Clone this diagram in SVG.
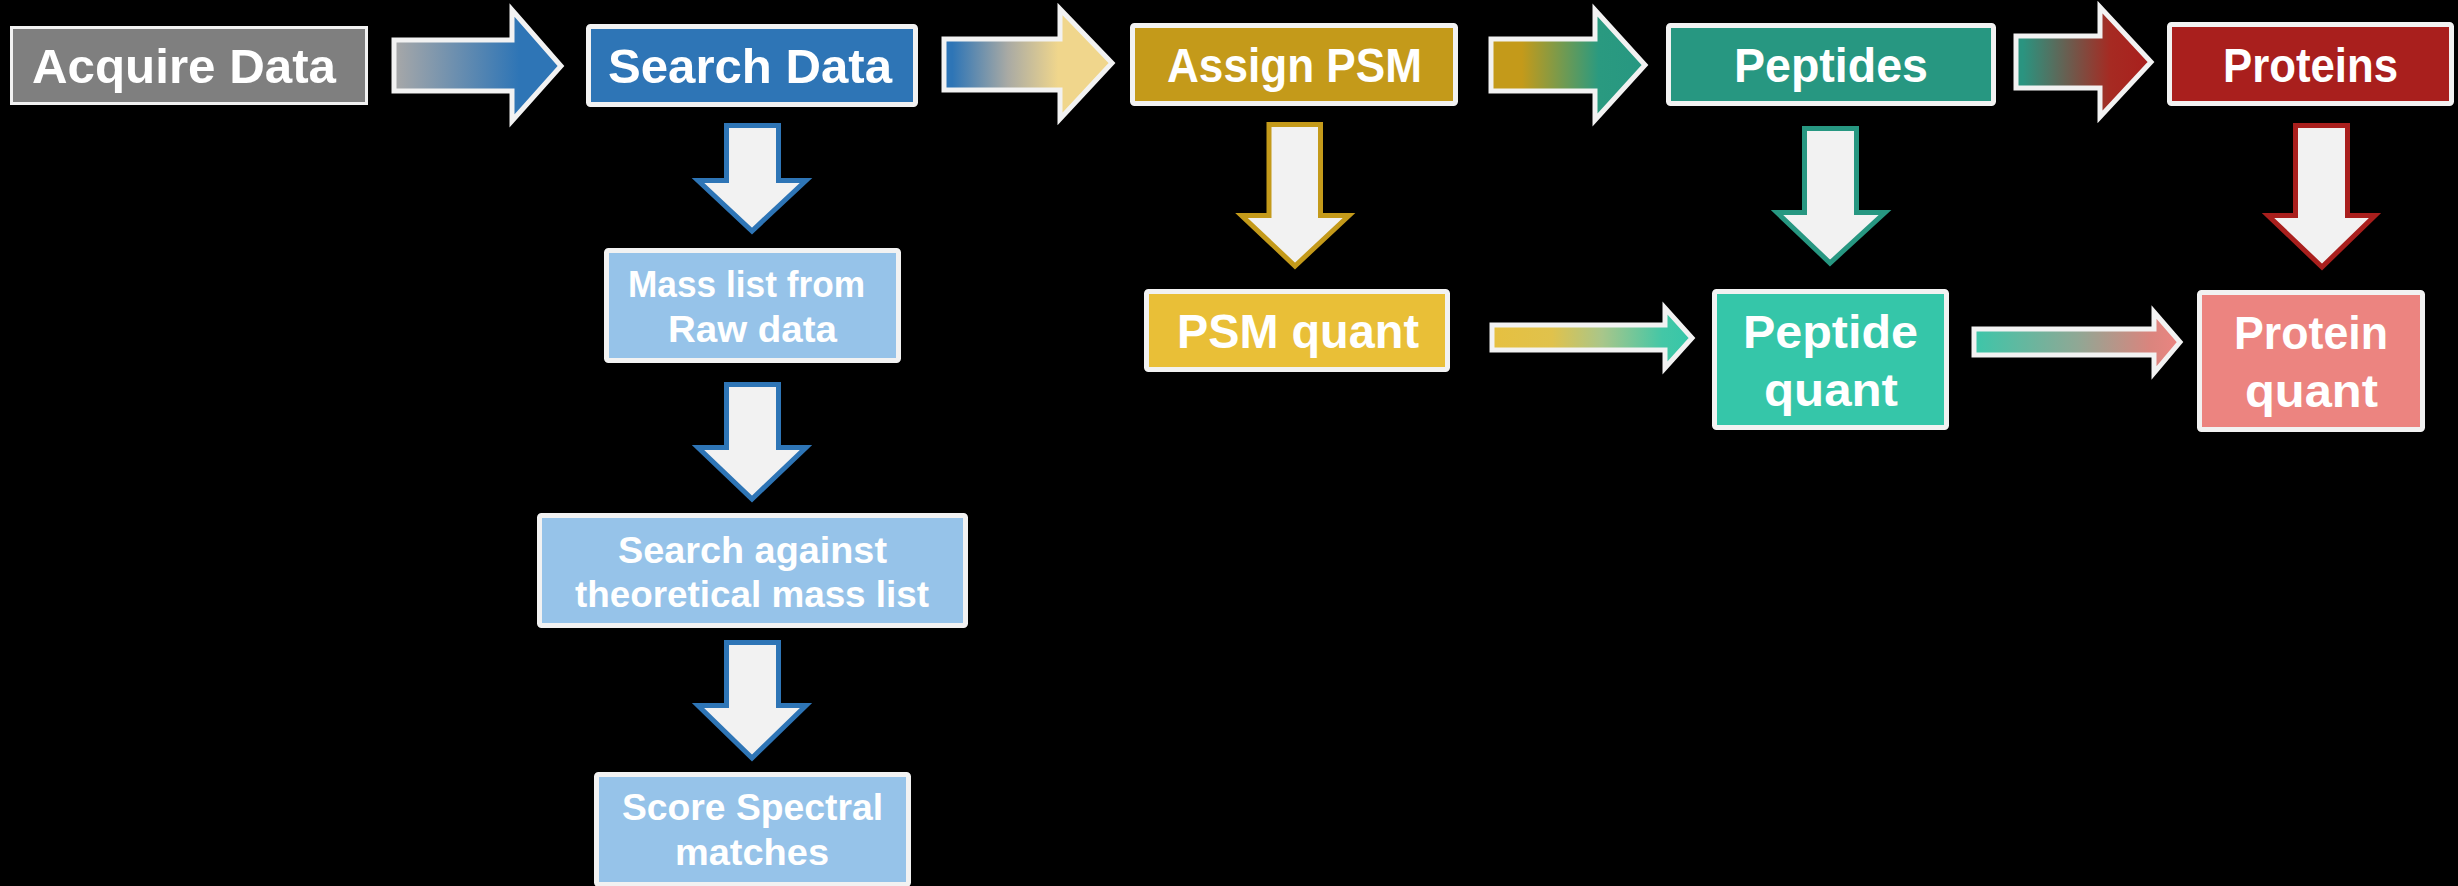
<svg xmlns="http://www.w3.org/2000/svg" width="2458" height="886" viewBox="0 0 2458 886">
  <defs>
    <style>
      .box { stroke: #f2f2f2; stroke-width: 5; }
      .lbl { font-family: "Liberation Sans", Arial, sans-serif; font-weight: bold; fill: #ffffff; text-anchor: middle; }
      .big { font-size: 48px; }
      .mid { font-size: 46px; }
      .sml { font-size: 37px; }
      .flow { stroke: #f2f2f2; stroke-width: 5; stroke-linejoin: miter; }
      .down { fill: #f2f2f2; stroke-width: 5; stroke-linejoin: miter; }
    </style>
    <linearGradient id="gAcqSearch" x1="0" y1="0" x2="1" y2="0">
      <stop offset="0" stop-color="#a8a8a8"/>
      <stop offset="0.75" stop-color="#2e75b6"/>
      <stop offset="1" stop-color="#2e75b6"/>
    </linearGradient>
    <linearGradient id="gSearchAssign" x1="0" y1="0" x2="1" y2="0">
      <stop offset="0.05" stop-color="#2e75b6"/>
      <stop offset="0.38" stop-color="#a9aaa4"/>
      <stop offset="0.68" stop-color="#f0d68c"/>
      <stop offset="1" stop-color="#f0d68c"/>
    </linearGradient>
    <linearGradient id="gAssignPep" x1="0" y1="0" x2="1" y2="0">
      <stop offset="0.2" stop-color="#c49a1a"/>
      <stop offset="0.7" stop-color="#2a9a80"/>
      <stop offset="1" stop-color="#279781"/>
    </linearGradient>
    <linearGradient id="gPepProt" x1="0" y1="0" x2="1" y2="0">
      <stop offset="0.05" stop-color="#2a9480"/>
      <stop offset="0.7" stop-color="#a62a22"/>
      <stop offset="1" stop-color="#a91f1d"/>
    </linearGradient>
    <linearGradient id="gPsmQuant" x1="0" y1="0" x2="1" y2="0">
      <stop offset="0" stop-color="#e6c040"/>
      <stop offset="0.3" stop-color="#e0c24c"/>
      <stop offset="0.55" stop-color="#a9c68a"/>
      <stop offset="0.85" stop-color="#44c7a6"/>
      <stop offset="1" stop-color="#35c6a9"/>
    </linearGradient>
    <linearGradient id="gPepQuant" x1="0" y1="0" x2="1" y2="0">
      <stop offset="0" stop-color="#3cc6a9"/>
      <stop offset="0.5" stop-color="#8fa895"/>
      <stop offset="0.85" stop-color="#d9857e"/>
      <stop offset="1" stop-color="#ec8480"/>
    </linearGradient>
  </defs>

  <rect x="0" y="0" width="2458" height="886" fill="#000000"/>

  <!-- connectors: gradient block arrows and outlined down arrows -->
  <g id="connectors">
    <path class="flow" fill="url(#gAcqSearch)" d="M394,40 H512 V10 L561,66 L512,121 V91 H394 Z"/>
    <path class="flow" fill="url(#gSearchAssign)" d="M944,39 H1060 V9 L1112,63 L1060,119 V90 H944 Z"/>
    <path class="flow" fill="url(#gAssignPep)" d="M1491,39 H1595 V10 L1645,65 L1595,120 V91 H1491 Z"/>
    <path class="flow" fill="url(#gPepProt)" d="M2016,36 H2100 V7 L2151,62 L2100,117 V88 H2016 Z"/>
    <path class="flow" fill="url(#gPsmQuant)" d="M1492,325 H1665 V308 L1692,338 L1665,368 V350 H1492 Z"/>
    <path class="flow" fill="url(#gPepQuant)" d="M1974,329 H2154 V312 L2180,342 L2154,373 V355 H1974 Z"/>

    <path class="down" stroke="#2e75b6" d="M726.5,125.5 H778.5 V180.5 H806 L752,231 L698,180.5 H726.5 Z"/>
    <path class="down" stroke="#2e75b6" d="M726.5,384.5 H778.5 V447.5 H806 L752,499 L698,447.5 H726.5 Z"/>
    <path class="down" stroke="#2e75b6" d="M726.5,642.5 H778.5 V705.5 H806 L752,758 L698,705.5 H726.5 Z"/>
    <path class="down" stroke="#c49a1a" d="M1269,124.5 H1320.5 V215.5 H1349 L1295,266 L1241.5,215.5 H1269 Z"/>
    <path class="down" stroke="#279781" d="M1804.5,128.5 H1856.5 V212.5 H1885 L1830,263 L1777,212.5 H1804.5 Z"/>
    <path class="down" stroke="#a91f1d" d="M2295.5,125.5 H2347.5 V215.5 H2375 L2322,267 L2268,215.5 H2295.5 Z"/>
  </g>

  <g id="acquire-data">
    <rect x="11.5" y="27.5" width="355" height="76" fill="#7f7f7f" stroke="#f2f2f2" stroke-width="3"/>
    <text class="lbl big" x="184" y="83" textLength="304" lengthAdjust="spacingAndGlyphs">Acquire Data</text>
  </g>

  <g id="search-data">
    <rect class="box" x="588.5" y="26.5" width="327" height="78" rx="2" fill="#2e75b6"/>
    <text class="lbl big" x="750" y="83" textLength="284" lengthAdjust="spacingAndGlyphs">Search Data</text>
  </g>

  <g id="assign-psm">
    <rect class="box" x="1132.5" y="25.5" width="323" height="78" rx="2" fill="#c49a1a"/>
    <text class="lbl big" x="1294.5" y="82" textLength="255" lengthAdjust="spacingAndGlyphs">Assign PSM</text>
  </g>

  <g id="peptides">
    <rect class="box" x="1668.5" y="25.5" width="325" height="78" rx="2" fill="#279781"/>
    <text class="lbl big" x="1831" y="82" textLength="194" lengthAdjust="spacingAndGlyphs">Peptides</text>
  </g>

  <g id="proteins">
    <rect class="box" x="2169.5" y="24.5" width="282" height="79" rx="2" fill="#a91f1d"/>
    <text class="lbl big" x="2310.5" y="82" textLength="175" lengthAdjust="spacingAndGlyphs">Proteins</text>
  </g>

  <g id="mass-list">
    <rect class="box" x="606.5" y="250.5" width="292" height="110" rx="2" fill="#96c3e9"/>
    <text class="lbl sml" x="746.5" y="297" textLength="237" lengthAdjust="spacingAndGlyphs">Mass list from</text>
    <text class="lbl sml" x="752.5" y="342" textLength="169" lengthAdjust="spacingAndGlyphs">Raw data</text>
  </g>

  <g id="search-against">
    <rect class="box" x="539.5" y="515.5" width="426" height="110" rx="2" fill="#96c3e9"/>
    <text class="lbl sml" x="752.5" y="563" textLength="269" lengthAdjust="spacingAndGlyphs">Search against</text>
    <text class="lbl sml" x="752" y="607" textLength="354" lengthAdjust="spacingAndGlyphs">theoretical mass list</text>
  </g>

  <g id="score-spectral">
    <rect class="box" x="596.5" y="774.5" width="312" height="110" rx="2" fill="#96c3e9"/>
    <text class="lbl sml" x="752.5" y="820" textLength="261" lengthAdjust="spacingAndGlyphs">Score Spectral</text>
    <text class="lbl sml" x="752" y="865" textLength="154" lengthAdjust="spacingAndGlyphs">matches</text>
  </g>

  <g id="psm-quant">
    <rect class="box" x="1146.5" y="291.5" width="301" height="78" rx="2" fill="#e9bf37"/>
    <text class="lbl big" x="1298" y="348" textLength="242" lengthAdjust="spacingAndGlyphs">PSM quant</text>
  </g>

  <g id="peptide-quant">
    <rect class="box" x="1714.5" y="291.5" width="232" height="136" rx="2" fill="#35c6a9"/>
    <text class="lbl mid" x="1830.5" y="348" textLength="175" lengthAdjust="spacingAndGlyphs">Peptide</text>
    <text class="lbl mid" x="1831" y="406" textLength="134" lengthAdjust="spacingAndGlyphs">quant</text>
  </g>

  <g id="protein-quant">
    <rect class="box" x="2199.5" y="292.5" width="223" height="137" rx="2" fill="#ec8480"/>
    <text class="lbl mid" x="2311" y="349" textLength="154" lengthAdjust="spacingAndGlyphs">Protein</text>
    <text class="lbl mid" x="2311.5" y="407" textLength="133" lengthAdjust="spacingAndGlyphs">quant</text>
  </g>
</svg>
